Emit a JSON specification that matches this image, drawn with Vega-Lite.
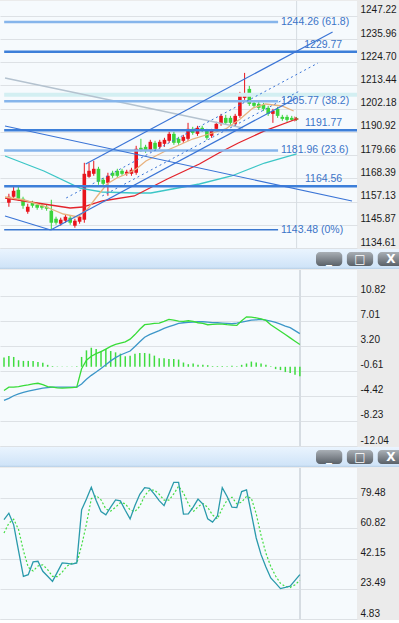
{
"$schema": "https://vega.github.io/schema/vega-lite/v6.json",
"padding": 0,
"background": "#ebebeb",
"spacing": 0,
"config": {
  "view": {"stroke": null, "fill": "#f6fafd"},
  "concat": {"spacing": 0},
  "axis": {"domain": false, "ticks": false, "grid": true, "gridColor": "#dde1e5", "gridWidth": 1, "labelFont": "Liberation Sans", "labelFontSize": 10, "labelColor": "#1a1a1a", "labelPadding": 3, "labelBaseline": "alphabetic", "labelOffset": -3, "labelFlush": false, "labelOverlap": false, "tickCount": 40, "title": null}
},
"datasets": {
  "ohlc": [
{"t":0,"o":1156.56,"h":1160.92,"l":1154.62,"c":1159.47},
{"t":1,"o":1159.47,"h":1164.31,"l":1158.01,"c":1162.38},
{"t":2,"o":1162.86,"h":1164.31,"l":1157.53,"c":1158.5},
{"t":3,"o":1158.5,"h":1159.47,"l":1153.65,"c":1155.11},
{"t":4,"o":1152.2,"h":1156.08,"l":1151.23,"c":1154.62},
{"t":5,"o":1156.56,"h":1157.53,"l":1154.14,"c":1155.11},
{"t":6,"o":1155.59,"h":1156.56,"l":1153.17,"c":1154.14},
{"t":7,"o":1155.11,"h":1156.08,"l":1153.17,"c":1154.14},
{"t":8,"o":1154.62,"h":1155.59,"l":1152.69,"c":1153.65},
{"t":9,"o":1152.69,"h":1158.01,"l":1143.48,"c":1146.87},
{"t":10,"o":1148.81,"h":1149.78,"l":1145.9,"c":1146.87},
{"t":11,"o":1146.39,"h":1149.3,"l":1145.42,"c":1148.33},
{"t":12,"o":1147.84,"h":1150.75,"l":1146.87,"c":1149.78},
{"t":13,"o":1149.3,"h":1150.26,"l":1145.9,"c":1146.87},
{"t":14,"o":1145.42,"h":1148.81,"l":1144.45,"c":1147.84},
{"t":15,"o":1147.36,"h":1150.75,"l":1146.39,"c":1149.78},
{"t":16,"o":1148.33,"h":1175.94,"l":1146.87,"c":1170.61},
{"t":17,"o":1169.16,"h":1175.94,"l":1168.67,"c":1172.07},
{"t":18,"o":1170.61,"h":1176.91,"l":1169.64,"c":1173.03},
{"t":19,"o":1173.03,"h":1174.0,"l":1165.28,"c":1166.74},
{"t":20,"o":1167.7,"h":1168.67,"l":1164.31,"c":1165.77},
{"t":21,"o":1166.25,"h":1171.1,"l":1159.95,"c":1169.64},
{"t":22,"o":1171.1,"h":1172.07,"l":1168.67,"c":1169.64},
{"t":23,"o":1172.07,"h":1173.03,"l":1168.67,"c":1169.64},
{"t":24,"o":1172.07,"h":1173.03,"l":1169.64,"c":1170.61},
{"t":25,"o":1170.61,"h":1172.55,"l":1169.64,"c":1171.58},
{"t":26,"o":1170.61,"h":1173.52,"l":1169.64,"c":1172.55},
{"t":27,"o":1171.1,"h":1184.18,"l":1170.13,"c":1182.72},
{"t":28,"o":1183.21,"h":1187.57,"l":1181.27,"c":1181.76},
{"t":29,"o":1183.69,"h":1184.66,"l":1180.79,"c":1181.76},
{"t":30,"o":1182.24,"h":1187.09,"l":1181.27,"c":1186.12},
{"t":31,"o":1185.63,"h":1186.6,"l":1181.76,"c":1182.72},
{"t":32,"o":1183.69,"h":1187.09,"l":1182.72,"c":1186.12},
{"t":33,"o":1185.15,"h":1188.06,"l":1183.69,"c":1187.09},
{"t":34,"o":1186.6,"h":1190.96,"l":1185.63,"c":1189.99},
{"t":35,"o":1189.99,"h":1190.96,"l":1184.66,"c":1185.63},
{"t":36,"o":1187.57,"h":1188.54,"l":1184.66,"c":1185.63},
{"t":37,"o":1186.6,"h":1189.51,"l":1185.63,"c":1188.54},
{"t":38,"o":1187.57,"h":1195.32,"l":1186.6,"c":1192.41},
{"t":39,"o":1192.41,"h":1193.38,"l":1189.51,"c":1190.48},
{"t":40,"o":1189.99,"h":1193.87,"l":1189.02,"c":1192.9},
{"t":41,"o":1192.9,"h":1193.87,"l":1190.96,"c":1191.93},
{"t":42,"o":1191.45,"h":1192.41,"l":1187.09,"c":1188.06},
{"t":43,"o":1189.02,"h":1192.41,"l":1188.06,"c":1191.45},
{"t":44,"o":1192.41,"h":1195.81,"l":1191.45,"c":1194.84},
{"t":45,"o":1194.84,"h":1199.68,"l":1193.87,"c":1198.71},
{"t":46,"o":1197.74,"h":1199.2,"l":1194.35,"c":1195.32},
{"t":47,"o":1197.74,"h":1198.71,"l":1194.35,"c":1195.32},
{"t":48,"o":1194.84,"h":1199.68,"l":1193.87,"c":1198.71},
{"t":49,"o":1198.71,"h":1210.34,"l":1197.74,"c":1209.37},
{"t":50,"o":1207.43,"h":1219.55,"l":1206.46,"c":1209.37},
{"t":51,"o":1211.79,"h":1213.25,"l":1203.56,"c":1204.53},
{"t":52,"o":1205.01,"h":1205.98,"l":1202.59,"c":1203.56},
{"t":53,"o":1204.53,"h":1205.5,"l":1201.62,"c":1202.59},
{"t":54,"o":1204.04,"h":1205.01,"l":1201.14,"c":1202.1},
{"t":55,"o":1202.59,"h":1203.56,"l":1198.71,"c":1199.68},
{"t":56,"o":1199.68,"h":1202.1,"l":1195.32,"c":1201.14},
{"t":57,"o":1202.1,"h":1203.07,"l":1197.74,"c":1198.71},
{"t":58,"o":1198.23,"h":1199.2,"l":1196.29,"c":1197.26},
{"t":59,"o":1198.23,"h":1199.2,"l":1195.81,"c":1196.77},
{"t":60,"o":1197.74,"h":1198.71,"l":1196.29,"c":1196.77},
{"t":61,"o":1197.5,"h":1198.2,"l":1196.3,"c":1196.9}
  ],
  "ma": [
{"s":"gray","t":-0.82,"v":1217.08},{"s":"gray","t":49.69,"v":1192.82},
{"s":"teal","t":-0.82,"v":1179.24},{"s":"teal","t":7.42,"v":1171.96},{"s":"teal","t":15.05,"v":1163.68},{"s":"teal","t":19.79,"v":1161.77},{"s":"teal","t":26.6,"v":1161.29},{"s":"teal","t":30.1,"v":1161.29},{"s":"teal","t":40.41,"v":1165.66},{"s":"teal","t":47.22,"v":1169.54},{"s":"teal","t":54.23,"v":1175.84},{"s":"teal","t":61.03,"v":1180.21},
{"s":"red","t":-0.82,"v":1158.87},{"s":"red","t":5.98,"v":1156.44},{"s":"red","t":12.99,"v":1154.01},{"s":"red","t":15.67,"v":1154.5},{"s":"red","t":19.79,"v":1157.41},{"s":"red","t":26.6,"v":1159.84},{"s":"red","t":33.61,"v":1168.08},{"s":"red","t":40.41,"v":1175.36},{"s":"red","t":44.54,"v":1180.7},{"s":"red","t":48.66,"v":1185.55},{"s":"red","t":54.23,"v":1191.4},{"s":"red","t":61.03,"v":1197.19},
{"s":"tan","t":-0.82,"v":1159.35},{"s":"tan","t":3.3,"v":1157.89},{"s":"tan","t":7.42,"v":1154.98},{"s":"tan","t":11.55,"v":1151.1},{"s":"tan","t":14.64,"v":1149.65},{"s":"tan","t":16.7,"v":1153.55},{"s":"tan","t":18.76,"v":1159.84},{"s":"tan","t":20.82,"v":1165.66},{"s":"tan","t":22.89,"v":1168.57},{"s":"tan","t":24.95,"v":1170.51},{"s":"tan","t":27.01,"v":1172.93},{"s":"tan","t":29.07,"v":1176.81},{"s":"tan","t":31.13,"v":1179.24},{"s":"tan","t":33.2,"v":1181.67},{"s":"tan","t":35.67,"v":1184.09},{"s":"tan","t":38.97,"v":1187.48},{"s":"tan","t":42.47,"v":1189.91},{"s":"tan","t":45.98,"v":1192.34},{"s":"tan","t":49.07,"v":1197.19},{"s":"tan","t":51.75,"v":1202.52},{"s":"tan","t":54.43,"v":1204.47},{"s":"tan","t":57.94,"v":1203.5},{"s":"tan","t":60.41,"v":1201.07}
  ],
  "chan": [
{"s":"ascU","k":"solid","t":16.29,"v":1175.36},{"s":"ascU","k":"solid","t":68.66,"v":1239.39},
{"s":"ascL","k":"solid","t":8.87,"v":1143.34},{"s":"ascL","k":"solid","t":61.03,"v":1207.38},
{"s":"desc1","k":"solid","t":-0.82,"v":1193.79},{"s":"desc1","k":"solid","t":72.78,"v":1157.41},
{"s":"desc2","k":"solid","t":-0.82,"v":1150.13},{"s":"desc2","k":"solid","t":8.87,"v":1143.34},
{"s":"dot1","k":"dot","t":12.16,"v":1158.87},{"s":"dot1","k":"dot","t":65.57,"v":1224.35},
{"s":"dot2","k":"dot","t":19.79,"v":1159.84},{"s":"dot2","k":"dot","t":61.65,"v":1210.77}
  ],
  "hlines": [
{"k":"cyan","v":1208.9,"t1":-1,"t2":74},
{"k":"fib","v":1244.26,"t1":-1,"t2":57.1},
{"k":"fib","v":1205.77,"t1":-1,"t2":57.1},
{"k":"fib","v":1181.96,"t1":-1,"t2":57.1},
{"k":"fib0","v":1143.48,"t1":-1,"t2":57.1},
{"k":"lvl","v":1229.77,"t1":-1,"t2":74},
{"k":"lvl","v":1191.77,"t1":-1,"t2":74},
{"k":"lvl","v":1164.56,"t1":-1,"t2":74}
  ],
  "labels": [
{"txt":"1244.26 (61.8)","v":1244.26,"k":"fib"},
{"txt":"1205.77 (38.2)","v":1205.77,"k":"fib"},
{"txt":"1181.96 (23.6)","v":1181.96,"k":"fib"},
{"txt":"1143.48 (0%)","v":1143.48,"k":"fib"},
{"txt":"1229.77","v":1229.77,"k":"lvl"},
{"txt":"1191.77","v":1191.77,"k":"lvl"},
{"txt":"1164.56","v":1164.56,"k":"lvl"}
  ],
  "ind": [
{"t":0,"dif":-3.6,"dea":-5.1,"hist":1.4,"k":66.2,"d":58},
{"t":1,"dif":-3.1,"dea":-4.8,"hist":1.65,"k":70.2,"d":64},
{"t":2,"dif":-3.1,"dea":-4.4,"hist":1.5,"k":63.0,"d":66.5},
{"t":3,"dif":-3.0,"dea":-4.1,"hist":1.0,"k":47.0,"d":60.1},
{"t":4,"dif":-2.85,"dea":-3.9,"hist":0.9,"k":31.2,"d":47.1},
{"t":5,"dif":-2.75,"dea":-3.7,"hist":0.9,"k":32.2,"d":36.8},
{"t":6,"dif":-2.6,"dea":-3.55,"hist":0.9,"k":40.1,"d":34.5},
{"t":7,"dif":-2.5,"dea":-3.4,"hist":0.75,"k":40.5,"d":37.6},
{"t":8,"dif":-2.7,"dea":-3.25,"hist":0.6,"k":34.3,"d":38.3},
{"t":9,"dif":-3.0,"dea":-3.15,"hist":0.3,"k":31.2,"d":35.3},
{"t":10,"dif":-3.1,"dea":-3.1,"hist":0.1,"k":28.1,"d":31.2},
{"t":11,"dif":-3.2,"dea":-3.1,"hist":0.05,"k":33.8,"d":31.0},
{"t":12,"dif":-3.25,"dea":-3.1,"hist":0.05,"k":39.5,"d":33.8},
{"t":13,"dif":-3.2,"dea":-3.1,"hist":0.05,"k":39.2,"d":37.5},
{"t":14,"dif":-3.15,"dea":-3.1,"hist":0.05,"k":38.8,"d":39.2},
{"t":15,"dif":-3.1,"dea":-3.1,"hist":0.1,"k":39.5,"d":39.2},
{"t":16,"dif":-0.3,"dea":-2.6,"hist":1.5,"k":72.3,"d":50.2},
{"t":17,"dif":1.0,"dea":-1.9,"hist":2.5,"k":79.0,"d":63.6},
{"t":18,"dif":1.6,"dea":-1.3,"hist":2.9,"k":86.2,"d":79.2},
{"t":19,"dif":2.0,"dea":-0.8,"hist":2.7,"k":78.0,"d":81.1},
{"t":20,"dif":2.3,"dea":-0.25,"hist":2.4,"k":71.2,"d":78.5},
{"t":21,"dif":2.7,"dea":0.3,"hist":2.7,"k":69.2,"d":72.8},
{"t":22,"dif":3.1,"dea":0.9,"hist":2.4,"k":74.0,"d":71.5},
{"t":23,"dif":3.4,"dea":1.4,"hist":2.2,"k":78.4,"d":73.9},
{"t":24,"dif":3.6,"dea":1.8,"hist":2.0,"k":77.8,"d":76.7},
{"t":25,"dif":3.8,"dea":2.1,"hist":1.6,"k":72.0,"d":76.1},
{"t":26,"dif":4.2,"dea":2.4,"hist":1.7,"k":66.7,"d":72.2},
{"t":27,"dif":4.9,"dea":3.1,"hist":2.0,"k":75.0,"d":71.2},
{"t":28,"dif":5.7,"dea":3.8,"hist":2.1,"k":81.9,"d":74.5},
{"t":29,"dif":6.4,"dea":4.5,"hist":2.1,"k":86.0,"d":81.0},
{"t":30,"dif":6.5,"dea":4.9,"hist":2.0,"k":85.6,"d":84.5},
{"t":31,"dif":6.6,"dea":5.2,"hist":1.7,"k":82.0,"d":84.5},
{"t":32,"dif":6.65,"dea":5.5,"hist":1.3,"k":78.0,"d":81.9},
{"t":33,"dif":6.9,"dea":5.85,"hist":1.3,"k":74.9,"d":78.3},
{"t":34,"dif":7.2,"dea":6.1,"hist":1.2,"k":82.0,"d":78.3},
{"t":35,"dif":7.1,"dea":6.35,"hist":1.2,"k":89.3,"d":82.1},
{"t":36,"dif":6.95,"dea":6.6,"hist":1.1,"k":89.3,"d":86.9},
{"t":37,"dif":6.9,"dea":6.7,"hist":0.65,"k":69.6,"d":82.7},
{"t":38,"dif":7.0,"dea":6.75,"hist":0.4,"k":69.8,"d":76.2},
{"t":39,"dif":6.9,"dea":6.8,"hist":0.5,"k":74.0,"d":71.1},
{"t":40,"dif":6.7,"dea":6.85,"hist":0.3,"k":78.9,"d":74.2},
{"t":41,"dif":6.6,"dea":6.85,"hist":0.3,"k":75.8,"d":76.2},
{"t":42,"dif":6.4,"dea":6.8,"hist":0.25,"k":66.7,"d":73.8},
{"t":43,"dif":6.45,"dea":6.72,"hist":0.1,"k":64.7,"d":69.1},
{"t":44,"dif":6.5,"dea":6.7,"hist":0.1,"k":68.6,"d":66.7},
{"t":45,"dif":6.5,"dea":6.65,"hist":0.1,"k":86.0,"d":73.1},
{"t":46,"dif":6.4,"dea":6.6,"hist":0.1,"k":80.5,"d":78.4},
{"t":47,"dif":6.35,"dea":6.55,"hist":0.15,"k":73.9,"d":80.1},
{"t":48,"dif":6.3,"dea":6.65,"hist":0.1,"k":73.7,"d":76.0},
{"t":49,"dif":7.0,"dea":6.8,"hist":0.3,"k":83.6,"d":77.1},
{"t":50,"dif":7.6,"dea":6.95,"hist":0.5,"k":84.6,"d":80.6},
{"t":51,"dif":7.55,"dea":7.1,"hist":0.8,"k":70.0,"d":79.4},
{"t":52,"dif":7.45,"dea":7.15,"hist":0.65,"k":54.9,"d":69.8},
{"t":53,"dif":7.3,"dea":7.2,"hist":0.5,"k":44.6,"d":56.5},
{"t":54,"dif":7.05,"dea":7.1,"hist":0.3,"k":37.0,"d":45.5},
{"t":55,"dif":6.4,"dea":6.95,"hist":0.1,"k":30.2,"d":37.3},
{"t":56,"dif":5.9,"dea":6.75,"hist":-0.35,"k":27.0,"d":31.4},
{"t":57,"dif":5.4,"dea":6.5,"hist":-0.5,"k":23.6,"d":26.9},
{"t":58,"dif":4.9,"dea":6.2,"hist":-0.8,"k":24.3,"d":25.0},
{"t":59,"dif":4.4,"dea":5.95,"hist":-0.95,"k":25.1,"d":24.3},
{"t":60,"dif":3.9,"dea":5.5,"hist":-1.2,"k":28.7,"d":26.0},
{"t":61,"dif":3.4,"dea":5.05,"hist":-1.45,"k":32.3,"d":28.7}
  ],
  "buttons": [{"b":"min","sym":"_"},{"b":"max","sym":"□"},{"b":"close","sym":"X"}],
  "one": [{"a":1}]
},
"vconcat": [
  {
    "width": 357, "height": 247,
    "layer": [
      {"data": {"name": "one"}, "mark": {"type": "rule", "color": "#d6dce2", "strokeWidth": 1},
       "encoding": {"x": {"datum": 61.03, "type": "quantitative", "scale": {"domain": [-0.825, 72.78], "nice": false, "zero": false}, "axis": null}}},
      {"data": {"name": "ohlc"}, "mark": {"type": "rule", "strokeWidth": 1},
       "encoding": {
         "x": {"field": "t", "type": "quantitative"},
         "y": {"field": "l", "type": "quantitative", "scale": {"domain": [1134.61, 1254.43], "nice": false, "zero": false},
               "axis": {"orient": "right", "tickCount": 40, "labelOverlap": false, "values": [1134.61, 1145.87, 1157.13, 1168.39, 1179.66, 1190.92, 1202.18, 1213.44, 1224.70, 1235.96, 1247.22], "format": ".2f"}},
         "y2": {"field": "h"},
         "color": {"condition": {"test": "datum.c >= datum.o", "value": "#e8141c"}, "value": "#3ad43c"}}},
      {"data": {"name": "ohlc"}, "mark": {"type": "bar", "width": 3.6},
       "encoding": {
         "x": {"field": "t", "type": "quantitative"},
         "y": {"field": "o", "type": "quantitative"},
         "y2": {"field": "c"},
         "color": {"condition": {"test": "datum.c >= datum.o", "value": "#e8141c"}, "value": "#3ad43c"}}},
      {"data": {"name": "hlines"}, "transform": [{"filter": "datum.k == 'cyan'"}], "mark": {"type": "rule", "color": "#d3eff2", "strokeWidth": 4, "clip": true},
       "encoding": {"x": {"field": "t1", "type": "quantitative"}, "x2": {"field": "t2"}, "y": {"field": "v", "type": "quantitative"}}},
      {"data": {"name": "ma"}, "mark": {"type": "line", "strokeWidth": 1.3, "clip": true},
       "encoding": {"x": {"field": "t", "type": "quantitative"}, "y": {"field": "v", "type": "quantitative"}, "detail": {"field": "s"},
         "color": {"field": "s", "type": "nominal", "scale": {"domain": ["gray", "teal", "red", "tan"], "range": ["#b4c2cf", "#3cc6c6", "#e3232b", "#e8b27e"]}, "legend": null}}},
      {"data": {"name": "ma"}, "transform": [{"filter": "datum.s == 'red' && datum.t > 61"}], "mark": {"type": "point", "shape": "triangle-right", "filled": true, "size": 30, "color": "#e3232b"},
       "encoding": {"x": {"field": "t", "type": "quantitative"}, "y": {"field": "v", "type": "quantitative"}}},
      {"data": {"name": "hlines"}, "transform": [{"filter": "datum.k == 'fib'"}], "mark": {"type": "rule", "color": "#86b5eb", "strokeWidth": 2.5, "clip": true},
       "encoding": {"x": {"field": "t1", "type": "quantitative"}, "x2": {"field": "t2"}, "y": {"field": "v", "type": "quantitative"}}},
      {"data": {"name": "hlines"}, "transform": [{"filter": "datum.k == 'fib0'"}], "mark": {"type": "rule", "color": "#3b78d0", "strokeWidth": 1.6, "clip": true},
       "encoding": {"x": {"field": "t1", "type": "quantitative"}, "x2": {"field": "t2"}, "y": {"field": "v", "type": "quantitative"}}},
      {"data": {"name": "hlines"}, "transform": [{"filter": "datum.k == 'lvl'"}], "mark": {"type": "rule", "color": "#3d7fd9", "strokeWidth": 2.5, "clip": true},
       "encoding": {"x": {"field": "t1", "type": "quantitative"}, "x2": {"field": "t2"}, "y": {"field": "v", "type": "quantitative"}}},
      {"data": {"name": "chan"}, "transform": [{"filter": "datum.k == 'solid'"}], "mark": {"type": "line", "color": "#3a74d6", "strokeWidth": 1.2, "clip": true},
       "encoding": {"x": {"field": "t", "type": "quantitative"}, "y": {"field": "v", "type": "quantitative"}, "detail": {"field": "s"}}},
      {"data": {"name": "chan"}, "transform": [{"filter": "datum.k == 'dot'"}], "mark": {"type": "line", "color": "#3a74d6", "strokeWidth": 1, "strokeDash": [2, 3], "clip": true},
       "encoding": {"x": {"field": "t", "type": "quantitative"}, "y": {"field": "v", "type": "quantitative"}, "detail": {"field": "s"}}},
      {"data": {"name": "labels"}, "transform": [{"filter": "datum.k == 'fib'"}], "mark": {"type": "text", "align": "left", "baseline": "middle", "font": "Liberation Sans", "fontSize": 10.5, "color": "#3b74c8"},
       "encoding": {"x": {"datum": 57.7, "type": "quantitative"}, "y": {"field": "v", "type": "quantitative"}, "text": {"field": "txt"}}},
      {"data": {"name": "labels"}, "transform": [{"filter": "datum.k == 'lvl'"}], "mark": {"type": "text", "align": "right", "baseline": "alphabetic", "dy": -4, "font": "Liberation Sans", "fontSize": 10.5, "color": "#3b74c8"},
       "encoding": {"x": {"datum": 70.7, "type": "quantitative"}, "y": {"field": "v", "type": "quantitative"}, "text": {"field": "txt"}}}
    ]
  },
  {
    "spacing": 0,
    "hconcat": [
      {"width": 316, "height": 20, "data": {"name": "one"},
       "mark": {"type": "rect", "color": {"gradient": "linear", "x1": 0, "y1": 0, "x2": 0, "y2": 1, "stops": [{"offset": 0, "color": "#eaf4fe"}, {"offset": 0.9, "color": "#d0e4f8"}, {"offset": 1, "color": "#b7cfe6"}]}},
       "encoding": {"x": {"value": 0}, "x2": {"value": "width"}, "y": {"value": 0}, "y2": {"value": "height"}}},
      {"width": 88, "height": 20,
       "layer": [
         {"data": {"name": "one"},
          "mark": {"type": "rect", "color": {"gradient": "linear", "x1": 0, "y1": 0, "x2": 0, "y2": 1, "stops": [{"offset": 0, "color": "#eaf4fe"}, {"offset": 0.9, "color": "#d0e4f8"}, {"offset": 1, "color": "#b7cfe6"}]}},
          "encoding": {"x": {"value": 0}, "x2": {"value": "width"}, "y": {"value": 0}, "y2": {"value": "height"}}},
         {"data": {"name": "buttons"},
          "mark": {"type": "rect", "cornerRadius": 4, "color": {"gradient": "linear", "x1": 0, "y1": 0, "x2": 0, "y2": 1, "stops": [{"offset": 0, "color": "#a9afb5"}, {"offset": 1, "color": "#5a6168"}]}},
          "encoding": {"x": {"field": "b", "type": "nominal", "sort": null, "scale": {"type": "band", "paddingInner": 0.15, "paddingOuter": 0}, "axis": null},
                       "y": {"datum": "row", "type": "nominal", "scale": {"type": "band", "paddingOuter": 0.214}, "axis": null}}},
         {"data": {"name": "buttons"},
          "mark": {"type": "text", "font": "DejaVu Sans", "fontWeight": "bold", "fontSize": 12, "color": "#ffffff", "baseline": "middle"},
          "encoding": {"x": {"field": "b", "type": "nominal", "sort": null}, "y": {"datum": "row", "type": "nominal"}, "text": {"field": "sym"}}}
       ]}
    ]
  },
  {
    "width": 357, "height": 176,
    "data": {"name": "ind"},
    "layer": [
      {"mark": {"type": "rule", "color": "#d6dce2", "strokeWidth": 1},
       "encoding": {"x": {"datum": 61.03, "type": "quantitative", "scale": {"domain": [-0.825, 72.78], "nice": false, "zero": false}, "axis": null}}},
      {"mark": {"type": "rule", "color": "#3fdc3f", "strokeWidth": 1.5},
       "encoding": {"x": {"field": "t", "type": "quantitative"},
         "y": {"field": "hist", "type": "quantitative", "scale": {"domain": [-12.04, 14.72], "nice": false, "zero": false},
               "axis": {"orient": "right", "tickCount": 40, "labelOverlap": false, "values": [-12.04, -8.23, -4.42, -0.61, 3.2, 7.01, 10.82], "format": ".2f", "labelExpr": "replace(datum.label, '\u2212', '-')"}},
         "y2": {"datum": 0}}},
      {"mark": {"type": "line", "color": "#3c96c8", "strokeWidth": 1.3},
       "encoding": {"x": {"field": "t", "type": "quantitative"}, "y": {"field": "dea", "type": "quantitative"}}},
      {"mark": {"type": "line", "color": "#38dc38", "strokeWidth": 1.3},
       "encoding": {"x": {"field": "t", "type": "quantitative"}, "y": {"field": "dif", "type": "quantitative"}}}
    ]
  },
  {
    "spacing": 0,
    "hconcat": [
      {"width": 316, "height": 20, "data": {"name": "one"},
       "mark": {"type": "rect", "color": {"gradient": "linear", "x1": 0, "y1": 0, "x2": 0, "y2": 1, "stops": [{"offset": 0, "color": "#eaf4fe"}, {"offset": 0.9, "color": "#d0e4f8"}, {"offset": 1, "color": "#b7cfe6"}]}},
       "encoding": {"x": {"value": 0}, "x2": {"value": "width"}, "y": {"value": 0}, "y2": {"value": "height"}}},
      {"width": 88, "height": 20,
       "layer": [
         {"data": {"name": "one"},
          "mark": {"type": "rect", "color": {"gradient": "linear", "x1": 0, "y1": 0, "x2": 0, "y2": 1, "stops": [{"offset": 0, "color": "#eaf4fe"}, {"offset": 0.9, "color": "#d0e4f8"}, {"offset": 1, "color": "#b7cfe6"}]}},
          "encoding": {"x": {"value": 0}, "x2": {"value": "width"}, "y": {"value": 0}, "y2": {"value": "height"}}},
         {"data": {"name": "buttons"},
          "mark": {"type": "rect", "cornerRadius": 4, "color": {"gradient": "linear", "x1": 0, "y1": 0, "x2": 0, "y2": 1, "stops": [{"offset": 0, "color": "#a9afb5"}, {"offset": 1, "color": "#5a6168"}]}},
          "encoding": {"x": {"field": "b", "type": "nominal", "sort": null, "scale": {"type": "band", "paddingInner": 0.15, "paddingOuter": 0}, "axis": null},
                       "y": {"datum": "row", "type": "nominal", "scale": {"type": "band", "paddingOuter": 0.214}, "axis": null}}},
         {"data": {"name": "buttons"},
          "mark": {"type": "text", "font": "DejaVu Sans", "fontWeight": "bold", "fontSize": 12, "color": "#ffffff", "baseline": "middle"},
          "encoding": {"x": {"field": "b", "type": "nominal", "sort": null}, "y": {"datum": "row", "type": "nominal"}, "text": {"field": "sym"}}}
       ]}
    ]
  },
  {
    "width": 357, "height": 151,
    "data": {"name": "ind"},
    "layer": [
      {"mark": {"type": "rule", "color": "#d6dce2", "strokeWidth": 1},
       "encoding": {"x": {"datum": 61.03, "type": "quantitative", "scale": {"domain": [-0.825, 72.78], "nice": false, "zero": false}, "axis": null}}},
      {"mark": {"type": "line", "color": "#44dd44", "strokeWidth": 1.2, "strokeDash": [2, 2]},
       "encoding": {"x": {"field": "t", "type": "quantitative"},
         "y": {"field": "d", "type": "quantitative", "scale": {"domain": [4.83, 98.14], "nice": false, "zero": false},
               "axis": {"orient": "right", "tickCount": 40, "labelOverlap": false, "values": [4.83, 23.49, 42.15, 60.82, 79.48], "format": ".2f"}}}},
      {"mark": {"type": "line", "color": "#2a9aab", "strokeWidth": 1.3},
       "encoding": {"x": {"field": "t", "type": "quantitative"}, "y": {"field": "k", "type": "quantitative"}}}
    ]
  }
]
}
